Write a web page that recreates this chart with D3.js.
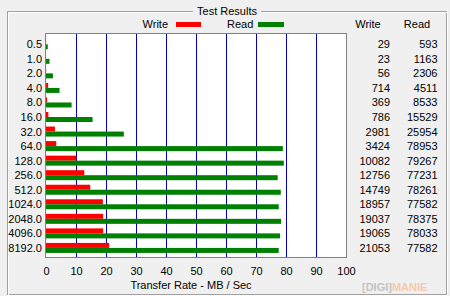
<!DOCTYPE html>
<html>
<head>
<meta charset="utf-8">
<script src="https://cdn.jsdelivr.net/npm/d3@7"></script>
<style>
body{margin:0;background:#f0f0f0;}
text{font-family:"Liberation Sans",Arial,sans-serif;font-size:11px;fill:#000;}
</style>
</head>
<body>
<div id="chart"></div>
<script>
var sizes = ["0.5","1.0","2.0","4.0","8.0","16.0","32.0","64.0","128.0","256.0","512.0","1024.0","2048.0","4096.0","8192.0"];
var writeVals = [29,23,56,714,369,786,2981,3424,10082,12756,14749,18957,19037,19065,21053];
var readVals  = [593,1163,2306,4511,8533,15529,25954,78953,79267,77231,78261,77582,78375,78033,77582];
var xTicks = [0,10,20,30,40,50,60,70,80,90,100];

var W = 450, H = 296;
var svg = d3.select("#chart").append("svg").attr("width", W).attr("height", H);
svg.append("rect").attr("width", W).attr("height", H).attr("fill", "#f0f0f0");

// group box (etched)
var gb = {l:7, t:11, r:446, b:294};
function etch(off, col){
  var p = "M193," + (gb.t+off) + "H" + (gb.l+off) + "V" + (gb.b+off) + "H" + (gb.r+off) + "V" + (gb.t+off) + "H261";
  svg.append("path").attr("d", p).attr("fill","none").attr("stroke",col).attr("shape-rendering","crispEdges");
}
etch(0.5, "#a0a0a0");
etch(1.5, "#ffffff");
svg.append("text").attr("x", 227).attr("y", 15).attr("text-anchor","middle").attr("font-size","12px").text("Test Results");

var x = d3.scaleLinear().domain([0,100]).range([46, 346]);
var y = d3.scaleBand().domain(sizes).range([37, 255.2]);

// plot area
svg.append("rect").attr("x", 45.5).attr("y", 33.5).attr("width", 300.5).attr("height", 223.5)
  .attr("fill","#fff").attr("stroke","#808080").attr("shape-rendering","crispEdges");

// grid
svg.append("g").selectAll("line").data(xTicks.slice(1,-1)).enter().append("line")
  .attr("x1", function(d){return Math.round(x(d))+0.5;}).attr("x2", function(d){return Math.round(x(d))+0.5;})
  .attr("y1", 34).attr("y2", 257).attr("stroke","#0000b8").attr("stroke-width",1);

// bars (KB/s -> MB/s)
var rows = sizes.map(function(s,i){return {s:s, w:writeVals[i], r:readVals[i]};});
svg.append("g").selectAll("rect").data(rows).enter().append("rect")
  .attr("x", x(0)).attr("y", function(d){return y(d.s)+y.bandwidth()/2-5;})
  .attr("width", function(d){return x(d.w/1000)-x(0);}).attr("height", 5).attr("fill","#ff0000");
svg.append("g").selectAll("rect").data(rows).enter().append("rect")
  .attr("x", x(0)).attr("y", function(d){return y(d.s)+y.bandwidth()/2;})
  .attr("width", function(d){return x(d.r/1000)-x(0);}).attr("height", 5).attr("fill","#008000");

// y labels
svg.append("g").selectAll("text").data(sizes).enter().append("text")
  .attr("x", 42).attr("y", function(d){return y(d)+y.bandwidth()/2;}).attr("dy","0.36em")
  .attr("text-anchor","end").text(function(d){return d;});

// x axis labels
var xAxis = d3.axisBottom(x).tickValues(xTicks).tickSize(0).tickPadding(10);
var gx = svg.append("g").attr("transform","translate(0,257)").call(xAxis);
gx.select(".domain").remove();
gx.selectAll("text").attr("font-family",null).attr("font-size",null).style("fill","#000");
svg.append("text").attr("x", 191).attr("y", 289).attr("text-anchor","middle").text("Transfer Rate - MB / Sec");

// legend
svg.append("text").attr("x", 168).attr("y", 28).attr("text-anchor","end").text("Write");
svg.append("rect").attr("x", 176).attr("y", 22).attr("width", 25).attr("height", 5).attr("fill","#ff0000");
svg.append("text").attr("x", 227).attr("y", 28).text("Read");
svg.append("rect").attr("x", 258).attr("y", 22).attr("width", 26).attr("height", 5).attr("fill","#008000");

// value table
svg.append("text").attr("x", 368).attr("y", 28).attr("text-anchor","middle").text("Write");
svg.append("text").attr("x", 417).attr("y", 28).attr("text-anchor","middle").text("Read");
var tbl = svg.append("g");
tbl.selectAll("text.w").data(rows).enter().append("text").attr("class","w")
  .attr("x", 390).attr("y", function(d){return y(d.s)+y.bandwidth()/2;}).attr("dy","0.36em")
  .attr("text-anchor","end").text(function(d){return d.w;});
tbl.selectAll("text.r").data(rows).enter().append("text").attr("class","r")
  .attr("x", 437.5).attr("y", function(d){return y(d.s)+y.bandwidth()/2;}).attr("dy","0.36em")
  .attr("text-anchor","end").text(function(d){return d.r;});

// watermark
var wm = svg.append("text").attr("x", 362).attr("y", 291).style("font-weight","bold").style("font-size","11px");
wm.append("tspan").style("fill","#c4c4c4").text("[DIGI]");
wm.append("tspan").style("fill","#f5c9a8").text("MANIE");
</script>
</body>
</html>
